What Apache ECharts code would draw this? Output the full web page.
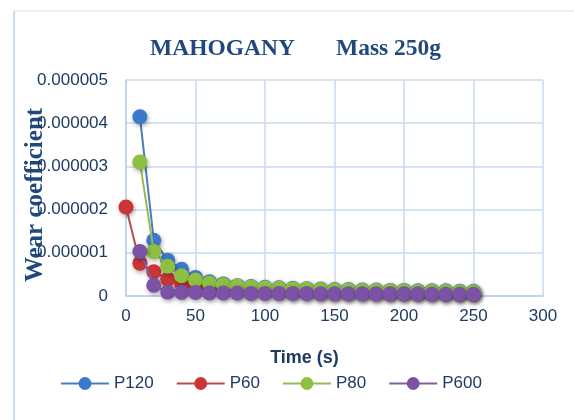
<!DOCTYPE html>
<html>
<head>
<meta charset="utf-8">
<script src="https://cdn.jsdelivr.net/npm/echarts@6/dist/echarts.min.js"></script>
<style>html,body{margin:0;padding:0;background:#fff}#c{width:574px;height:420px}</style>
</head>
<body>
<div id="c"></div>
<script>
// Time (s)
const times = [0,10,20,30,40,50,60,70,80,90,100,110,120,130,140,150,160,170,180,190,200,210,220,230,240,250];
// Wear coefficient (x 1e-6)
const p120 = [null,4.15,1.29,0.83,0.62,0.43,0.33,0.28,0.24,0.22,0.20,0.19,0.18,0.17,0.16,0.15,0.15,0.14,0.14,0.13,0.13,0.12,0.12,0.12,0.11,0.11];
const p60  = [2.06,0.76,0.56,0.39,0.27,0.20,0.16,0.13,0.11,0.10,0.09,0.08,0.08,0.07,0.07,0.06,0.06,0.06,0.05,0.05,0.05,0.05,0.05,0.04,0.04,0.04];
const p80  = [null,3.10,1.03,0.69,0.47,0.37,0.30,0.26,0.23,0.21,0.19,0.18,0.17,0.16,0.15,0.14,0.14,0.13,0.13,0.12,0.12,0.11,0.11,0.11,0.10,0.10];
const p600 = [null,1.03,0.25,0.09,0.08,0.08,0.07,0.07,0.07,0.06,0.06,0.06,0.06,0.06,0.05,0.05,0.05,0.05,0.05,0.05,0.05,0.05,0.04,0.04,0.04,0.04];
const seriesNames = ['P120','P60','P80','P600'];
const lineColors = ['#4A7EBB','#BE4B48','#98B954','#7D60A0'];
const markColors = ['#3B79CC','#CC3535','#8DC03F','#7B52A5'];
const seriesData = [p120,p60,p80,p600];

const chart = echarts.init(document.getElementById('c'));
const navy = '#1F3A63';
chart.setOption({
  animation:false,
  backgroundColor:'#fff',
  graphic:[
    {type:'line',shape:{x1:14,y1:11,x2:574,y2:11},style:{stroke:'#D3E1F1',lineWidth:1},silent:true,z:-1},
    {type:'line',shape:{x1:14,y1:11,x2:14,y2:420},style:{stroke:'#CADBEF',lineWidth:2},silent:true,z:-1}
  ],
  title:{text:'MAHOGANY       Mass 250g',left:145,top:32,
    textStyle:{fontFamily:'Liberation Serif',fontWeight:'bold',fontSize:23.5,color:'#1F497D'}},
  legend:{data:seriesNames,top:375,left:60,padding:0,itemWidth:48,itemHeight:16,itemGap:22,
    textStyle:{fontFamily:'Liberation Sans',fontSize:17,color:navy}},
  grid:{left:126,right:31,top:80,bottom:124,outerBoundsMode:'none'},
  xAxis:{type:'value',min:0,max:300,interval:50,
    name:'Time (s)',nameLocation:'middle',nameGap:53,nameMoveOverlap:false,
    nameTextStyle:{fontFamily:'Liberation Sans',fontWeight:'bold',fontSize:18,color:navy,padding:[0,60,0,0]},
    axisLine:{show:true,lineStyle:{color:'#BBD0EA',width:1.5}},axisTick:{show:false},
    axisLabel:{fontFamily:'Liberation Sans',fontSize:17,color:navy,margin:12},
    splitLine:{show:true,lineStyle:{color:'#C9DAEE',width:1.5}}},
  yAxis:{type:'value',min:0,max:0.000005,interval:0.000001,
    name:'Wear coefficient',nameLocation:'middle',nameGap:78,nameRotate:90,nameMoveOverlap:false,
    nameTextStyle:{fontFamily:'Liberation Serif',fontWeight:'bold',fontSize:25,color:'#1F497D',padding:[0,14,0,0]},
    axisLine:{show:true,lineStyle:{color:'#BBD0EA',width:1.5}},axisTick:{show:false},
    axisLabel:{fontFamily:'Liberation Sans',fontSize:17,color:navy,margin:18,
      formatter:v=>v===0?'0':v.toFixed(6)},
    splitLine:{show:true,lineStyle:{color:'#C9DAEE',width:1.5}}},
  series:seriesNames.map((n,i)=>({
    name:n,type:'line',
    data:times.map((t,j)=>[t, seriesData[i][j]==null?null:seriesData[i][j]*1e-6]),
    connectNulls:false,symbol:'circle',symbolSize:15,
    lineStyle:{color:lineColors[i],width:2},
    itemStyle:{color:markColors[i],borderColor:markColors[i],borderWidth:0,
      shadowBlur:4,shadowColor:'rgba(0,0,0,0.35)',shadowOffsetX:1,shadowOffsetY:2},
    z:2+i
  }))
});
</script>
</body>
</html>
